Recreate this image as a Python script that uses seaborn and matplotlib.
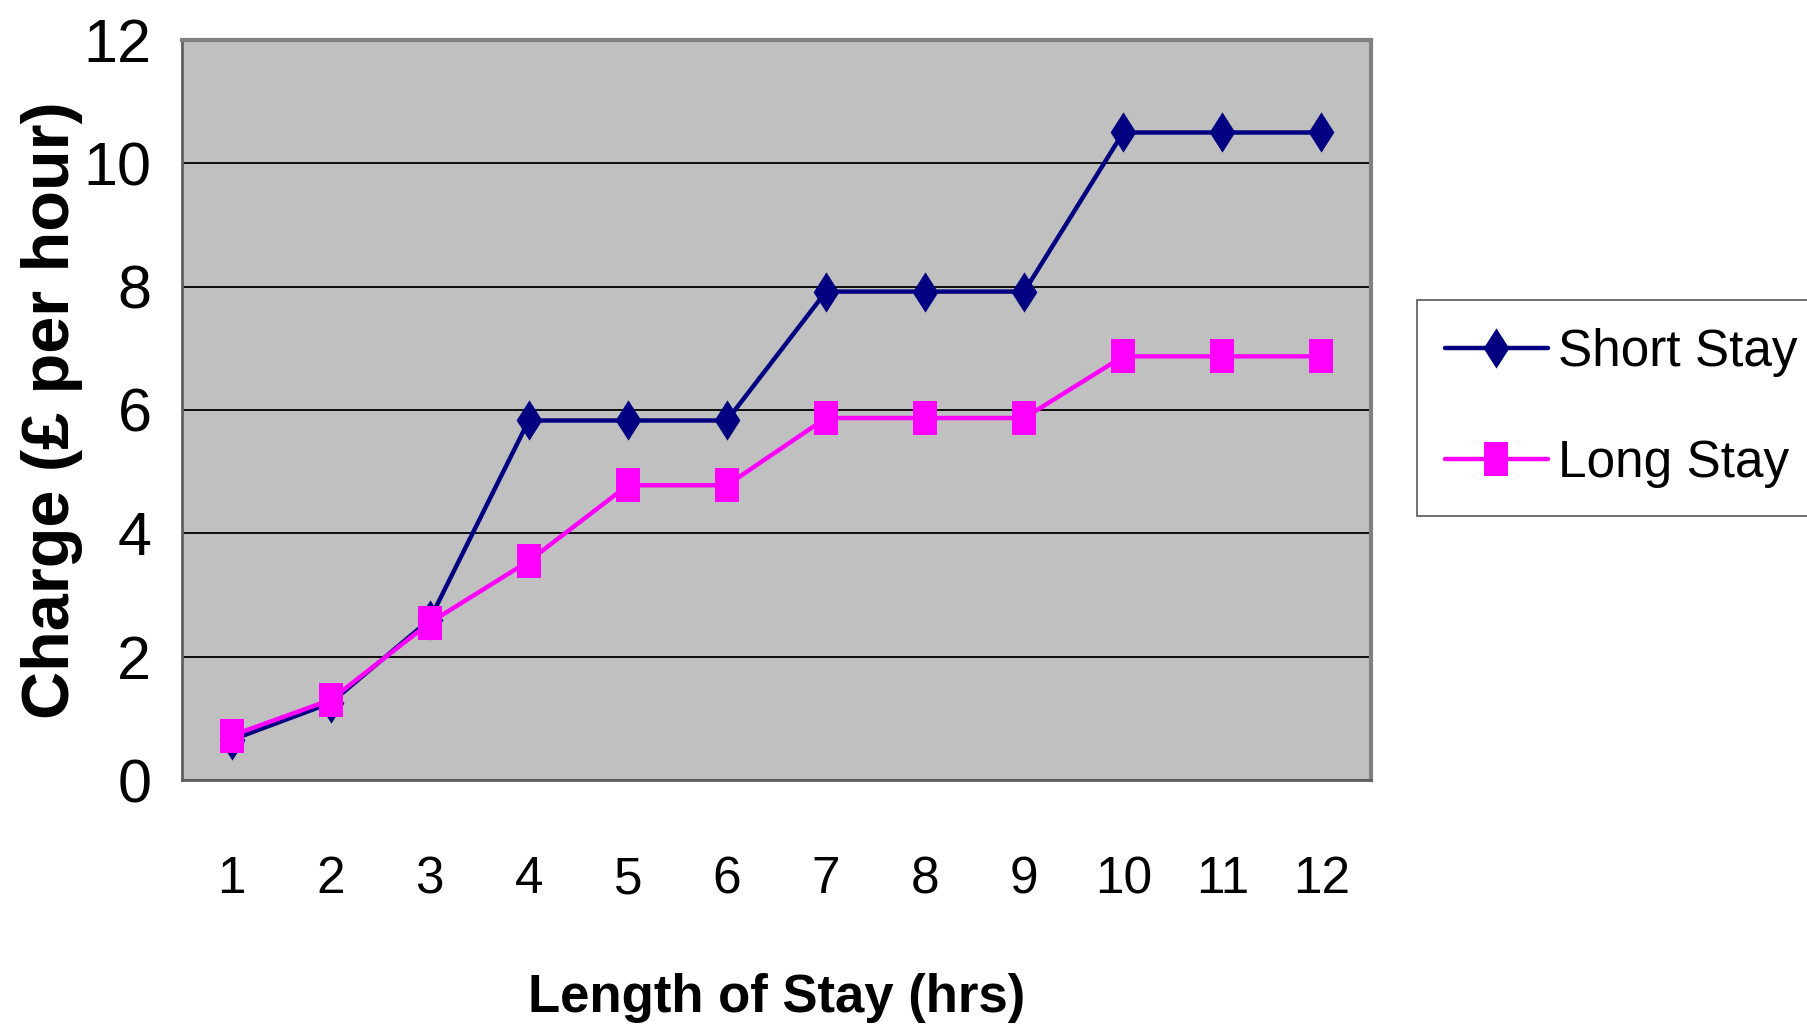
import numpy as np
import pandas as pd
import seaborn as sns
import matplotlib.pyplot as plt
from matplotlib.ticker import FixedLocator

sns.set_style("white")
plt.rcParams['font.family'] = ['Liberation Sans', 'DejaVu Sans']
plt.rcParams['text.color'] = 'black'
plt.rcParams['axes.labelcolor'] = 'black'
plt.rcParams['xtick.color'] = 'black'
plt.rcParams['ytick.color'] = 'black'

# data
hours = [1, 2, 3, 4, 5, 6, 7, 8, 9, 10, 11, 12]
short_stay = [0.65, 1.25, 2.6, 5.83, 5.83, 5.83, 7.92, 7.92, 7.92, 10.5, 10.5, 10.5]
long_stay = [0.72, 1.3, 2.55, 3.55, 4.78, 4.78, 5.87, 5.87, 5.87, 6.87, 6.87, 6.87]
series = ['Short Stay', 'Long Stay']

df = pd.DataFrame({
    'hours': hours * 2,
    'charge': short_stay + long_stay,
    'series': [series[0]] * len(hours) + [series[1]] * len(hours),
})

# tall diamond and tall square, like the old Excel markers
diamond = [(0, -0.5), (0.32, 0), (0, 0.5), (-0.32, 0)]
square = [(-0.35, -0.5), (0.35, -0.5), (0.35, 0.5), (-0.35, 0.5)]
styles = {
    'Short Stay': dict(color='#000080', marker=diamond, markersize=29),
    'Long Stay': dict(color='#FF00FF', marker=square, markersize=24),
}

fig = plt.figure(figsize=(18.07, 10.33), dpi=100)
ax = fig.add_axes([0.1007, 0.2449, 0.6580, 0.7164])
ax.set_facecolor('#C0C0C0')

for name in series:
    sns.lineplot(data=df[df['series'] == name], x='hours', y='charge', label=name,
                 linewidth=3.2, markeredgewidth=0, ax=ax, **styles[name])

ax.set_xlim(0.5, 12.5)
ax.set_ylim(0, 12)
ax.set_yticks(np.arange(0, 13, 2))
ax.yaxis.grid(True, color='black', linewidth=1.3)
ax.set_axisbelow(True)

# category axis: labels centred, tick marks between categories
ax.set_xticks(hours)
ax.xaxis.set_minor_locator(FixedLocator(np.arange(0.5, 13, 1)))
ax.tick_params(axis='x', which='major', length=0, pad=54, labelsize=37)
ax.tick_params(axis='x', which='minor', length=20, width=1.3, color='#404040', direction='out')
ax.tick_params(axis='y', which='major', length=12, width=1.3, color='#404040',
               direction='out', labelsize=44, pad=10)

for s in ['top', 'right']:
    ax.spines[s].set_color('#808080')
    ax.spines[s].set_linewidth(3)
for s in ['left', 'bottom']:
    ax.spines[s].set_color('#606060')
    ax.spines[s].set_linewidth(2)

ax.set_xlabel('Length of Stay (hrs)', fontsize=38, fontweight='bold', labelpad=50)
ax.set_ylabel('Charge (£ per hour)', fontsize=48, fontweight='bold', labelpad=0)

handles, labels = ax.get_legend_handles_labels()
leg = fig.legend(handles, labels, loc='upper left', bbox_to_anchor=(0.784, 0.7096),
                 fontsize=37, frameon=True, fancybox=False,
                 edgecolor='#404040', handlelength=2.0, handletextpad=0.2,
                 labelspacing=1.2, borderpad=0.55, borderaxespad=0)
leg.get_frame().set_linewidth(1.3)
ax.get_legend().remove()

fig.savefig('out.png', dpi=100)
